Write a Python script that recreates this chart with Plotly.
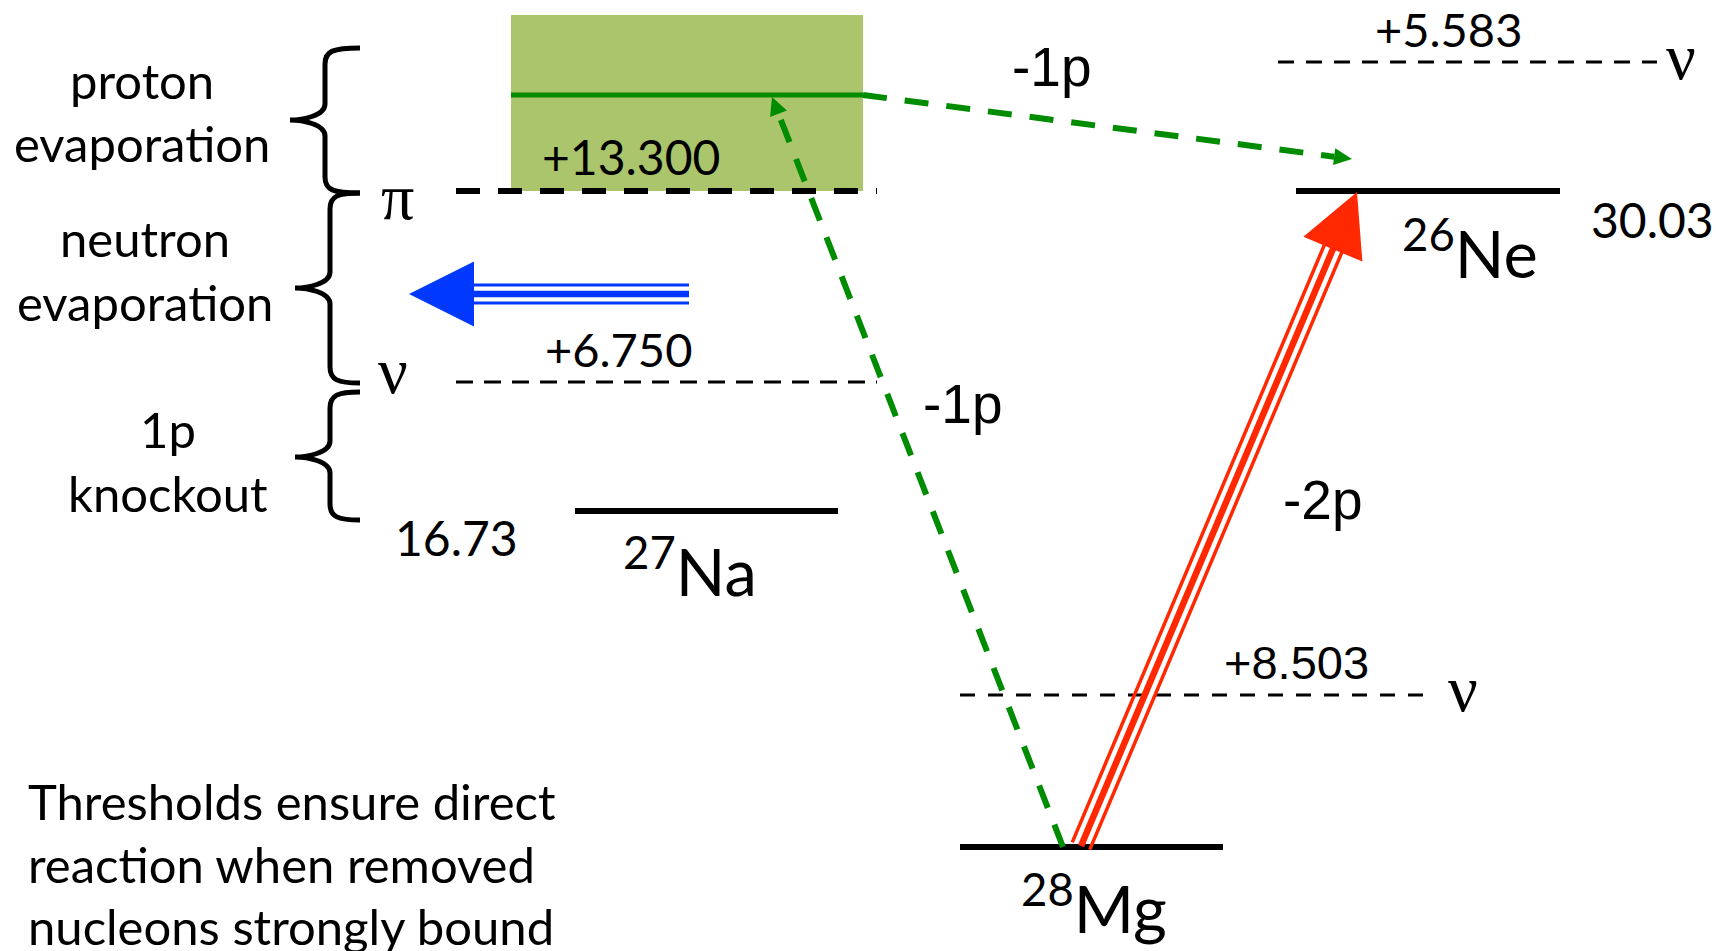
import numpy as np
import plotly.graph_objects as go

# ---- diagram content -------------------------------------------------------
nuclei = ["<sup>27</sup>Na", "<sup>28</sup>Mg", "<sup>26</sup>Ne"]
binding_labels = ["16.73", "30.03"]                  # 27Na, 26Ne
threshold_labels = ["+13.300", "+6.750", "+8.503", "+5.583"]
threshold_kinds = ["π", "ν", "ν", "ν"]
channel_labels = ["-1p", "-1p", "-2p"]
bracket_labels = [["proton", "evaporation"], ["neutron", "evaporation"], ["1p", "knockout"]]
note_lines = ["Thresholds ensure direct", "reaction when removed", "nucleons strongly bound"]

# ---- geometry (pixel canvas, y grows downward) -----------------------------
W, H = 1716, 951
BLACK = "#000000"
GREEN = "rgb(0,140,0)"
GREEN_FILL = "rgb(171,197,108)"
RED = "rgb(255,40,0)"
BLUE = "rgb(0,56,255)"
CAL = "Lato"
ARI = "Liberation Sans"
SERIF = "Liberation Serif"

level_pos = [  # x0, x1, y for each nucleus ground state
    (575, 838, 511),
    (960, 1223, 847),
    (1296, 1560, 191),
]
thr_pos = [  # x0, x1, y, width, dash
    (456, 877, 191, 6, "24px,18px"),
    (456, 877, 382, 3, "17px,11px"),
    (960, 1434, 695, 3, "15px,13px"),
    (1278, 1657, 62, 3, "16px,12px"),
]

fig = go.Figure()
shapes = []
ann = []

# proton-evaporation band above the 27Na pi threshold
shapes.append(dict(type="rect", xref="x", yref="y", x0=511, x1=863, y0=15, y1=191,
                   fillcolor=GREEN_FILL, line=dict(width=0), layer="below"))

# ground-state levels
for (x0, x1, y) in level_pos:
    fig.add_trace(go.Scatter(x=[x0, x1], y=[y, y], mode="lines",
                             line=dict(color=BLACK, width=6), hoverinfo="skip"))

# separation thresholds
for (x0, x1, y, w, d) in thr_pos:
    fig.add_trace(go.Scatter(x=[x0, x1], y=[y, y], mode="lines",
                             line=dict(color=BLACK, width=w, dash=d), hoverinfo="skip"))

# green level inside the band
fig.add_trace(go.Scatter(x=[511, 863], y=[95, 95], mode="lines",
                         line=dict(color=GREEN, width=5), hoverinfo="skip"))


def head(tip, start, length, half):
    tip = np.array(tip, float)
    u = tip - np.array(start, float)
    u /= np.linalg.norm(u)
    n = np.array([-u[1], u[0]])
    b = tip - length * u
    p1, p2 = b + half * n, b - half * n
    return f"M {tip[0]} {tip[1]} L {p1[0]} {p1[1]} L {p2[0]} {p2[1]} Z", b


def dashed_arrow(start, tip, color, width, dash, hl, hw):
    path, b = head(tip, start, hl, hw)
    fig.add_trace(go.Scatter(x=[start[0], b[0]], y=[start[1], b[1]], mode="lines",
                             line=dict(color=color, width=width, dash=dash), hoverinfo="skip"))
    shapes.append(dict(type="path", xref="x", yref="y", path=path,
                       fillcolor=color, line=dict(width=0), layer="above"))


def triple_arrow(start, tip, color, hl, hw, off, w_out, w_mid):
    path, b = head(tip, start, hl, hw)
    s = np.array(start, float)
    u = b - s
    u /= np.linalg.norm(u)
    n = np.array([-u[1], u[0]])
    e = b + 2 * u
    for k, w in ((-1, w_out), (0, w_mid), (1, w_out)):
        p0 = s + k * off * n
        p1 = e + k * off * n
        fig.add_trace(go.Scatter(x=[p0[0], p1[0]], y=[p0[1], p1[1]], mode="lines",
                                 line=dict(color=color, width=w), hoverinfo="skip"))
    shapes.append(dict(type="path", xref="x", yref="y", path=path,
                       fillcolor=color, line=dict(width=0), layer="above"))


# -1p paths (dashed green)
dashed_arrow((863, 95), (1352, 159), GREEN, 6, "24px,18px", 18, 8.5)
dashed_arrow((1063, 847), (772, 97), GREEN, 6, "24px,18px", 18, 9)

# -2p direct path (red triple arrow)
triple_arrow((1081, 846), (1357, 192), RED, 62, 32, 9.5, 3.5, 6.5)

# neutron evaporation (blue triple arrow)
triple_arrow((689, 294), (409, 294), BLUE, 65, 32.5, 9, 3, 6.5)


# curly brackets on the left
def brace(xe, xs, xt, yt, ym, yb):
    r = 16
    return (f"M {xe} {yt} C {xs + 8} {yt}, {xs} {yt + 3}, {xs} {yt + r} "
            f"L {xs} {ym - r} C {xs} {ym - 4}, {xt + 12} {ym}, {xt} {ym} "
            f"C {xt + 12} {ym}, {xs} {ym + 4}, {xs} {ym + r} "
            f"L {xs} {yb - r} C {xs} {yb - 3}, {xs + 8} {yb}, {xe} {yb}")


brace_pos = [(360, 325, 290, 48, 120, 193),
             (360, 330, 295, 193, 288, 383),
             (360, 330, 295, 392, 457, 520)]
for bp in brace_pos:
    shapes.append(dict(type="path", xref="x", yref="y", path=brace(*bp),
                       line=dict(color=BLACK, width=5), layer="above"))


def text(x, y, s, size, family=CAL, xanchor="center"):
    ann.append(dict(x=x, y=y, xref="x", yref="y", text=s, showarrow=False,
                    xanchor=xanchor, yanchor="middle",
                    font=dict(family=family, size=size, color=BLACK)))


# bracket captions
bracket_xy = [(142, (80, 143)), (145, (238, 302)), (168, (429, 493))]
for lines, (x, ys) in zip(bracket_labels, bracket_xy):
    for s, y in zip(lines, ys):
        text(x, y, s, 49)

# threshold values and symbols
thr_text_xy = [(631, 156), (618, 349), (1296, 662), (1448, 29)]
thr_fonts = [(CAL, 48), (CAL, 47), (ARI, 47), (CAL, 47)]
for s, (x, y), (f, sz) in zip(threshold_labels, thr_text_xy, thr_fonts):
    text(x, y, s, sz, f)

sym_xy = [(397, 196), (393, 370), (1463, 688), (1681, 56)]
for s, (x, y) in zip(threshold_kinds, sym_xy):
    text(x, y, s, 66, SERIF)

# nucleus names and binding energies
name_xy = [(690, 567), (1094, 904), (1470, 249)]
for s, (x, y) in zip(nuclei, name_xy):
    text(x, y, s, 65)
text(456, 537, binding_labels[0], 48)
text(1652, 219, binding_labels[1], 48)

# reaction channels
chan_xy = [(1052, 67), (963, 404), (1323, 500)]
for s, (x, y) in zip(channel_labels, chan_xy):
    text(x, y, s, 55, ARI)

# footnote
for s, y in zip(note_lines, (801, 864, 926)):
    text(26, y, s, 49, xanchor="left")

fig.update_layout(
    width=W, height=H, margin=dict(l=0, r=0, t=0, b=0),
    paper_bgcolor="white", plot_bgcolor="white", showlegend=False,
    xaxis=dict(range=[0, W], visible=False, fixedrange=True),
    yaxis=dict(range=[H, 0], visible=False, fixedrange=True),
    shapes=shapes, annotations=ann,
)
fig.write_html("out.html")
